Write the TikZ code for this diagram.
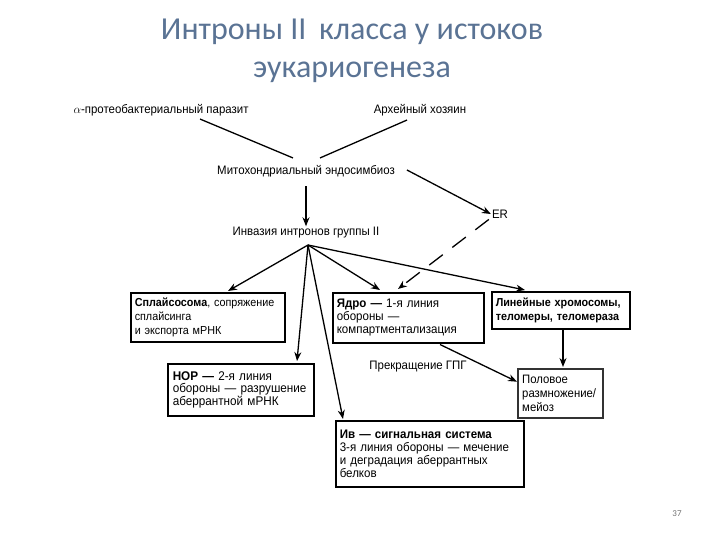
\documentclass[tikz,border=0pt]{standalone}
\usepackage{fontspec}
\setmainfont{Liberation Sans}[FakeStretch=0.93]
\newfontfamily\titlefont{Carlito}
\usetikzlibrary{arrows.meta,calc}
\definecolor{titlecol}{HTML}{5A7394}
\tikzset{
  lbl/.style={font=\fontsize{12.3}{14}\selectfont, inner sep=1pt},
  box/.style={draw, line width=1.5pt, anchor=north west, align=left, inner sep=4pt,
     font=\fontsize{11.6}{13.8}\selectfont},
  arr/.style={line width=1.3pt, -{Stealth[length=9pt,width=7pt]}},
  ln/.style={line width=1.3pt},
}
\begin{document}
\begin{tikzpicture}[x=1pt,y=-1pt]
\useasboundingbox (0,0) rectangle (720,540);
% title
\node[font=\titlefont\fontsize{32}{36}\selectfont, text=titlecol] (t1) at (352,32) {Интроны II\, класса у истоков};
\node[font=\titlefont\fontsize{32}{36}\selectfont, text=titlecol] (t2) at (352,72) {эукариогенеза};
% labels
\node[lbl] (par) at (161,110) {$\alpha$-протеобактериальный паразит};
\node[lbl] (host) at (420,110) {Архейный хозяин};
\node[lbl] (mito) at (306,171) {Митохондриальный эндосимбиоз};
\node[lbl] (er) at (500,214) {ER};
\node[lbl] (inv) at (306,233) {Инвазия интронов группы II};
\node[lbl] (prek) at (418,367) {Прекращение ГПГ};
% boxes
\node[box, text width=146pt, minimum height=49pt] (spl) at (130,292)
  {\textbf{Сплайсосома}, сопряжение\\сплайсинга\\и экспорта мРНК};
\node[box, font=\fontsize{12.6}{12.8}\selectfont, inner xsep=5pt, text width=136pt, minimum height=52pt] (nor) at (167,363)
  {\textbf{НОР — }2-я линия\\\mbox{обороны — разрушение}\\аберрантной мРНК};
\node[box, font=\fontsize{12.4}{13}\selectfont, text width=143pt, minimum height=50pt] (yad) at (332,292)
  {\textbf{Ядро — }1-я линия\\обороны —\\компартментализация};
\node[box, text width=130pt, minimum height=37pt] (lin) at (491,291)
  {\textbf{Линейные хромосомы,}\\\textbf{теломеры, теломераза}};
\node[box, font=\fontsize{12.2}{14}\selectfont, draw=black!80, line width=2.4pt, text width=77pt, minimum height=49pt] (pol) at (517,368)
  {Половое\\размножение/\\мейоз};
\node[box, font=\fontsize{12.4}{13.3}\selectfont, text width=180pt, minimum height=66pt] (iv) at (335,420)
  {\textbf{Ив — сигнальная система}\\3-я линия обороны — мечение\\и деградация аберрантных\\белков};
\node[font=\titlefont\fontsize{9}{10}\selectfont, text=black!55] (pg) at (677,514) {37};
% connectors
\coordinate (fan) at (308,245);
\draw[ln] ($(par.south)+(39,2)$) -- ($(mito.north)+(-13,-6)$);
\draw[ln] ($(host.south)+(-13,3)$) -- ($(mito.north)+(14,-6)$);
\draw[arr] ($(mito.south)+(0,8)$) -- (inv.north);
\draw[arr] ($(mito.east)+(11,-1)$) -- (er.west);
\draw[arr, dash pattern=on 17pt off 12pt] ($(er.south west)+(-2,0)$) -- ($(yad.north west)+(66,-3)$);
\draw[arr] (fan) -- ($(spl.north west)+(98,-1)$);
\draw[arr] (fan) -- ($(nor.north west)+(130,-2)$);
\draw[arr] (fan) -- ($(iv.north west)+(8,-1)$);
\draw[arr] (fan) -- ($(yad.north west)+(48,-2)$);
\draw[arr] (fan) -- ($(lin.north west)+(34,-1)$);
\draw[arr] ($(yad.south west)+(108,1)$) -- ($(pol.west)+(0,-12)$);
\draw[arr] ($(lin.south west)+(72,0)$) -- ($(pol.north west)+(46,-1)$);
\end{tikzpicture}
\end{document}
